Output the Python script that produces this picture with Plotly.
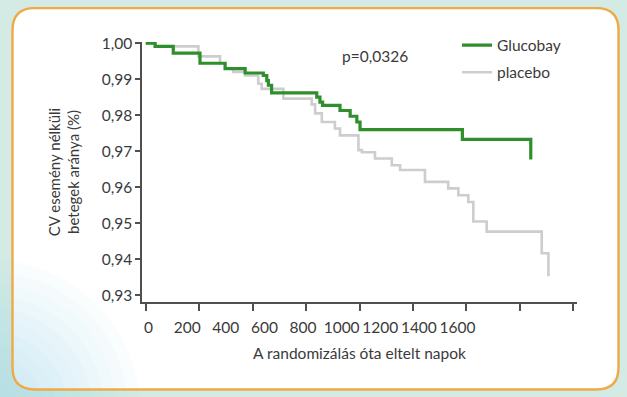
import plotly.graph_objects as go

# Kaplan–Meier curves: days after randomisation vs. proportion of patients free of CV events
glucobay_days = [0, 35, 103, 203, 297, 372, 440, 453, 459, 471, 640, 652, 662, 727, 765, 790, 802, 1185, 1441]
glucobay_surv = [1.0, 0.9991, 0.9972, 0.9944, 0.9929, 0.9917, 0.9910, 0.9896, 0.9883, 0.9862,
                 0.9850, 0.9836, 0.9827, 0.9813, 0.9797, 0.9781, 0.9760, 0.9733, 0.9677]

placebo_days = [0, 35, 197, 278, 297, 327, 372, 421, 434, 515, 621, 634, 659, 708, 727, 796, 809,
                858, 921, 952, 1045, 1132, 1170, 1207, 1226, 1276, 1482, 1507]
placebo_surv = [1.0, 0.9991, 0.9963, 0.9944, 0.9929, 0.9920, 0.9910, 0.9887, 0.9873, 0.9846, 0.9830,
                0.9805, 0.9781, 0.9763, 0.9744, 0.9703, 0.9697, 0.9680, 0.9661, 0.9648, 0.9615,
                0.9597, 0.9578, 0.9559, 0.9505, 0.9477, 0.9417, 0.9353]

x_ticks = [0, 200, 400, 600, 800, 1000, 1200, 1400, 1600]
x_tick_labels = ["0", "200", "400", "600", "800", "1000", "1200", "1400", "1600"]
y_ticks = [0.93, 0.94, 0.95, 0.96, 0.97, 0.98, 0.99, 1.00]

p_value_text = "p=0,0326"

FONT = "Lato, 'Open Sans', sans-serif"
TEXT = "#3a3a3a"
AXIS = "#505050"

W, H = 627, 397
L, R, T, B = 142, 577, 41.5, 302.3


def fx(px):
    return (px - L) / (R - L)


def fy(py):
    return (B - py) / (B - T)


def rounded_rect(x0, y0, x1, y1, r):
    return (
        f"M {fx(x0 + r)} {fy(y0)} L {fx(x1 - r)} {fy(y0)} "
        f"Q {fx(x1)} {fy(y0)} {fx(x1)} {fy(y0 + r)} "
        f"L {fx(x1)} {fy(y1 - r)} Q {fx(x1)} {fy(y1)} {fx(x1 - r)} {fy(y1)} "
        f"L {fx(x0 + r)} {fy(y1)} Q {fx(x0)} {fy(y1)} {fx(x0)} {fy(y1 - r)} "
        f"L {fx(x0)} {fy(y0 + r)} Q {fx(x0)} {fy(y0)} {fx(x0 + r)} {fy(y0)} Z"
    )


def soft_spot(cx, cy, r, color):
    return dict(type="circle", xref="paper", yref="paper",
                x0=fx(cx - r), x1=fx(cx + r), y0=fy(cy + r), y1=fy(cy - r),
                fillcolor=color, line=dict(width=0), layer="below")


fig = go.Figure()

fig.add_trace(go.Scatter(
    x=placebo_days, y=placebo_surv, mode="lines", line_shape="hv",
    line=dict(color="#cdcdcd", width=2.6), name="placebo",
    legendgroup="b", legendrank=2,
))
fig.add_trace(go.Scatter(
    x=glucobay_days, y=glucobay_surv, mode="lines", line_shape="hv",
    line=dict(color="#2f8f2c", width=3.2), name="Glucobay",
    legendgroup="a", legendrank=1,
))
# empty trace that brings the label axis (x2) into the figure
fig.add_trace(go.Scatter(x=[], y=[], xaxis="x2", yaxis="y", showlegend=False, hoverinfo="skip"))

frame = rounded_rect(12.5, 7.5, 618.5, 390, 22)
shapes = [
    dict(type="path", path=frame, xref="paper", yref="paper",
         fillcolor="white", line=dict(width=0), layer="below"),
]
# soft bluish tint in the lower-left corner of the card, built from many faint layers
for r in range(150, 20, -12):
    shapes.append(soft_spot(-10, 410, r, "rgba(165,208,230,0.05)"))
shapes.append(dict(type="path", path=frame, xref="paper", yref="paper",
                   fillcolor="rgba(0,0,0,0)", line=dict(color="#eeaa44", width=2.4),
                   layer="below"))

fig.update_layout(
    width=W, height=H,
    margin=dict(l=L, r=W - R, t=T, b=H - B, autoexpand=False),
    paper_bgcolor="#d4eae4",
    plot_bgcolor="rgba(0,0,0,0)",
    separators=", ",
    font=dict(family=FONT, size=15, color=TEXT),
    shapes=shapes,
    showlegend=True,
    legend=dict(
        x=fx(457), y=fy(28), xanchor="left", yanchor="top",
        bgcolor="rgba(0,0,0,0)", traceorder="grouped", tracegroupgap=4,
        font=dict(size=15.5, color=TEXT),
    ),
    xaxis=dict(
        range=[-14, 1614], tickvals=x_ticks, showticklabels=False,
        ticks="outside", ticklen=7, tickwidth=1.5, tickcolor=AXIS,
        showline=True, linecolor=AXIS, linewidth=1.5,
        showgrid=False, zeroline=False, fixedrange=True,
        title=dict(text="A randomizálás óta eltelt napok", standoff=38,
                   font=dict(size=15.5, color=TEXT)),
    ),
    xaxis2=dict(
        overlaying="x", anchor="y", side="bottom",
        range=[-33.7, 2218.8], tickvals=x_ticks, ticktext=x_tick_labels,
        ticks="", showline=False, showgrid=False, zeroline=False, fixedrange=True,
        ticklabelstandoff=14, tickfont=dict(size=15.5, color=TEXT),
    ),
    yaxis=dict(
        range=[0.92817, 1.0003], tickvals=y_ticks, tickformat=".2f",
        ticks="outside", ticklen=5, tickwidth=1.5, tickcolor=AXIS,
        showline=True, linecolor=AXIS, linewidth=1.5,
        showgrid=False, zeroline=False, fixedrange=True,
        tickfont=dict(size=15.5, color=TEXT),
        title=dict(text="CV esemény nélküli<br>betegek aránya (%)", standoff=18,
                   font=dict(size=15, color=TEXT)),
    ),
    annotations=[
        dict(text=p_value_text, x=fx(375), y=fy(45), xref="paper", yref="paper",
             showarrow=False, font=dict(size=15.5, color=TEXT)),
    ],
)

fig.write_html("out.html")
